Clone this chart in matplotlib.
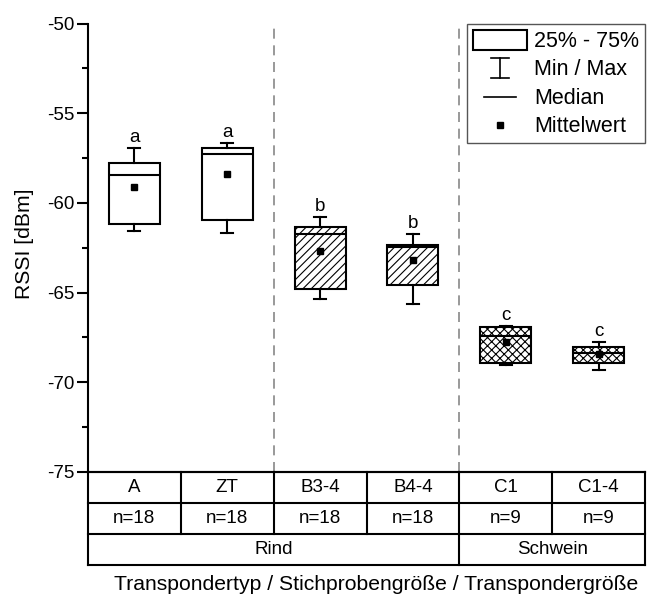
import matplotlib
matplotlib.use('Agg')
import matplotlib.pyplot as plt
from matplotlib.lines import Line2D
from matplotlib.patches import Rectangle
from matplotlib.legend_handler import HandlerBase

plt.rcParams['font.family'] = ['Liberation Sans', 'DejaVu Sans']
plt.rcParams['hatch.linewidth'] = 0.8
plt.rcParams['axes.unicode_minus'] = False

# ---- data ----
categories = ['A', 'ZT', 'B3-4', 'B4-4', 'C1', 'C1-4']
sample_sizes = ['n=18', 'n=18', 'n=18', 'n=18', 'n=9', 'n=9']
species = ['Rind', 'Schwein']
species_span = [4, 2]
rssi_min = [-61.56, -61.65, -65.35, -65.63, -69.03, -69.29]
rssi_q1 = [-61.17, -60.94, -64.79, -64.55, -68.95, -68.95]
rssi_median = [-58.45, -57.30, -61.76, -62.45, -67.43, -68.34]
rssi_q3 = [-57.78, -56.93, -61.35, -62.32, -66.89, -68.06]
rssi_max = [-56.96, -56.65, -60.77, -61.76, -66.86, -67.78]
rssi_mean = [-59.10, -58.41, -62.67, -63.19, -67.76, -68.45]
group_letters = ['a', 'a', 'b', 'b', 'c', 'c']
box_hatches = ['', '', '////', '////', 'xxxx', 'xxxx']
legend_labels = ['25% - 75%', 'Min / Max', 'Median', 'Mittelwert']

FS = 13.5
W, H = 658, 599
fig = plt.figure(figsize=(W / 100, H / 100), dpi=100)
ax_l, ax_r, ax_t, ax_b = 88, 645, 23.5, 472
ax = fig.add_axes([ax_l / W, (H - ax_b) / H, (ax_r - ax_l) / W, (ax_b - ax_t) / H])

n = len(categories)
stats = []
for i in range(n):
    stats.append(dict(med=rssi_median[i], q1=rssi_q1[i], q3=rssi_q3[i],
                      whislo=rssi_min[i], whishi=rssi_max[i],
                      mean=rssi_mean[i], fliers=[], label=categories[i]))
lw = 1.5
res = ax.bxp(stats, positions=list(range(n)), widths=0.55, patch_artist=True,
             showmeans=True, showfliers=False, capwidths=0.13,
             boxprops=dict(facecolor='white', edgecolor='black', linewidth=lw),
             medianprops=dict(color='black', linewidth=lw),
             whiskerprops=dict(color='black', linewidth=lw),
             capprops=dict(color='black', linewidth=lw),
             meanprops=dict(marker='s', markerfacecolor='black',
                            markeredgecolor='black', markersize=4))
for b, h in zip(res['boxes'], box_hatches):
    b.set_hatch(h)

for i in range(n):
    ax.annotate(group_letters[i], (i, rssi_max[i]), xytext=(0, 1.5),
                textcoords='offset points', ha='center', va='bottom', fontsize=FS)

# group separators
bounds = []
acc = 0
for s in species_span[:-1]:
    acc += s
    bounds.append(acc - 0.5)
for xb in [1.5] + bounds:
    ax.axvline(xb, color='#888888', lw=1.2, ls=(0, (6, 4)), zorder=0)

ax.set_xlim(-0.5, n - 0.5)
ax.set_ylim(-75, -50)
ax.set_yticks([-75, -70, -65, -60, -55, -50])
ax.set_yticks([-72.5, -67.5, -62.5, -57.5, -52.5], minor=True)
ax.set_xticks([])
ax.tick_params(axis='y', which='major', length=8, width=1.5, labelsize=FS,
               direction='out', pad=2)
ax.tick_params(axis='y', which='minor', length=4, width=1.5, direction='out')
for sp in ['top', 'right']:
    ax.spines[sp].set_visible(False)
for sp in ['left', 'bottom']:
    ax.spines[sp].set_linewidth(1.5)


# legend
class WhiskerHandler(HandlerBase):
    def create_artists(self, legend, orig_handle, xdescent, ydescent, width, height, fontsize, trans):
        cx = -xdescent + width / 2
        y0 = -ydescent
        y1 = -ydescent + height
        cw = width * 0.167
        arts = [Line2D([cx, cx], [y0, y1], color='black', lw=1.2),
                Line2D([cx - cw, cx + cw], [y0, y0], color='black', lw=1.2),
                Line2D([cx - cw, cx + cw], [y1, y1], color='black', lw=1.2)]
        for a in arts:
            a.set_transform(trans)
        return arts


class MedianHandler(HandlerBase):
    def create_artists(self, legend, orig_handle, xdescent, ydescent, width, height, fontsize, trans):
        cx = -xdescent + width / 2
        cy = -ydescent + height / 2
        hw = width * 0.3
        a = Line2D([cx - hw, cx + hw], [cy, cy], color='black', lw=1.2)
        a.set_transform(trans)
        return [a]


class MeanHandler(HandlerBase):
    def create_artists(self, legend, orig_handle, xdescent, ydescent, width, height, fontsize, trans):
        cx = -xdescent + width / 2
        cy = -ydescent + height / 2
        a = Line2D([cx], [cy], marker='s', color='black', markersize=4, ls='none')
        a.set_transform(trans)
        return [a]


class WhiskerKey:
    pass


class MedianKey:
    pass


class MeanKey:
    pass


rect = Rectangle((0, 0), 1, 1, facecolor='white', edgecolor='black', lw=1.5)
leg = ax.legend([rect, WhiskerKey(), MedianKey(), MeanKey()], legend_labels,
                handler_map={WhiskerKey: WhiskerHandler(), MedianKey: MedianHandler(),
                             MeanKey: MeanHandler()},
                loc='upper right', bbox_to_anchor=(1, 1), borderaxespad=0,
                fontsize=15.5, handlelength=2.5, handleheight=1.07, labelspacing=0.28,
                handletextpad=0.33, borderpad=0.28, fancybox=False, framealpha=1,
                edgecolor='#555555')
leg.get_frame().set_linewidth(1.0)

# table beneath the axis
tb_t, tb_b = 472, 565
tax = fig.add_axes([ax_l / W, (H - tb_b) / H, (ax_r - ax_l) / W, (tb_b - tb_t) / H])
tax.set_xlim(-0.5, n - 0.5)
tax.set_ylim(0, 3)
tax.axis('off')
kw = dict(color='black', lw=1.5, clip_on=False, solid_capstyle='projecting')
for yy in [0, 1, 2, 3]:
    tax.plot([-0.5, n - 0.5], [yy, yy], **kw)
tax.plot([-0.5, -0.5], [0, 3], **kw)
tax.plot([n - 0.5, n - 0.5], [0, 3], **kw)
for i in range(n - 1):
    tax.plot([i + 0.5, i + 0.5], [1, 3], **kw)
for xb in bounds:
    tax.plot([xb, xb], [0, 1], **kw)
for i in range(n):
    tax.text(i, 2.5, categories[i], ha='center', va='center', fontsize=FS)
    tax.text(i, 1.5, sample_sizes[i], ha='center', va='center', fontsize=FS)
start = -0.5
for sp, span in zip(species, species_span):
    tax.text(start + span / 2, 0.5, sp, ha='center', va='center', fontsize=FS)
    start += span

fig.text(376 / W, (H - 585) / H, 'Transpondertyp / Stichprobengröße / Transpondergröße',
         ha='center', va='center', fontsize=15.25)
fig.text(24 / W, (H - 244) / H, 'RSSI [dBm]', rotation=90, ha='center', va='center',
         fontsize=15.25)

fig.savefig('out.png', dpi=100)
